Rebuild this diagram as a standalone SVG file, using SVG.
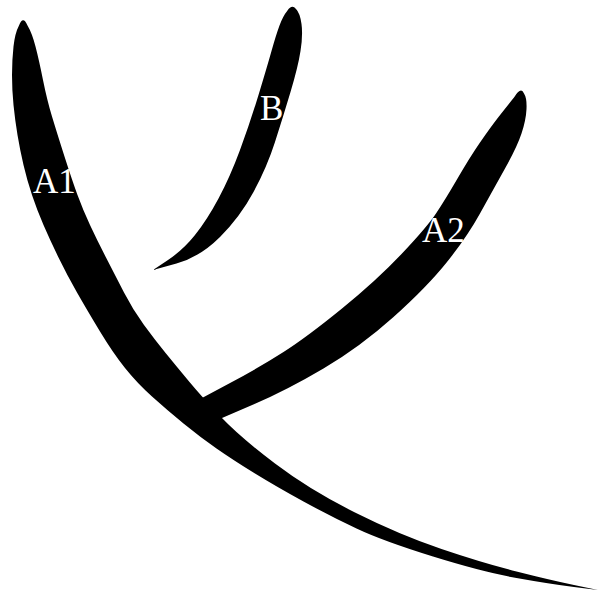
<svg xmlns="http://www.w3.org/2000/svg" width="598" height="597" viewBox="0 0 598 597">
<style>
.shape{fill:#000;stroke:none}
.lbl{fill:#fff;font-family:"Liberation Serif","Times New Roman",serif;font-size:35px}
</style>
<rect width="598" height="597" fill="#fff"/>
<g id="A1">
<path class="shape" d="M 27.5,25.5 Q 32,33 35.5,46.5 Q 39,60 43,80 Q 47,100 52,116.5 Q 57,133 64.5,156.5 Q 72,180 77.5,195 Q 83,210 90,225 Q 97,240 106,257.5 Q 115,275 124,292.5 Q 133,310 144,325 Q 155,340 166,353.5 Q 177,367 189.5,382 Q 202,397 221,417 Q 240,437 275,463.5 Q 310,490 355,512.5 Q 400,535 441.5,549 Q 483,563 516.5,571.5 Q 550,580 574,585 L 598,590 L 574,587 Q 550,584 516.5,578 Q 483,572 433,556.5 Q 383,541 356.5,528.5 Q 330,516 303.5,501.5 Q 277,487 255,473.5 Q 233,460 216.5,448.5 Q 200,437 183.5,423.5 Q 167,410 152,396.5 Q 137,383 125,368 Q 113,353 100,331.5 Q 87,310 77,292.5 Q 67,275 58.5,257.5 Q 50,240 43.5,225 Q 37,210 32,195 Q 27,180 23.5,165 Q 20,150 17.5,135 Q 15,120 13.5,105 Q 12,90 12,75 Q 12,60 13.5,46.5 Q 15,33 19,25.5 Q 23,15 27.5,25.5 Z"/>
<text class="lbl" x="33" y="193">A1</text>
</g>
<g id="A2">
<path class="shape" d="M 202,398 L 231,382.5 Q 260,367 283.5,352 Q 307,337 342,308.5 Q 377,280 402,253.5 Q 427,227 436,213.5 Q 445,200 457.5,178.5 Q 470,157 480,142.5 Q 490,128 498.5,117 Q 507,106 514,97.5 Q 521,86 524,93.5 Q 527,98 526.5,109 Q 526,120 521.5,133.5 Q 517,147 505,168.5 Q 493,190 480,213.5 Q 467,237 447,262 Q 427,287 393.5,317 Q 360,347 323.5,368.5 Q 287,390 254.5,404 L 222,418 L 205,420 L 192,402 Z"/>
<text class="lbl" x="422" y="242">A2</text>
</g>
<g id="B">
<path class="shape" d="M 296,9 Q 300,13 301.5,24 Q 303,35 300.5,51 Q 298,67 290.5,92 Q 283,117 275,142 Q 267,167 253.5,192 Q 240,217 220,237 Q 200,257 176.5,263.5 L 153,270 L 168,260 Q 183,250 195,235 Q 207,220 218.5,198.5 Q 230,177 240,150 Q 250,123 258.5,95 Q 267,67 271.5,51 Q 276,35 279.5,25.5 Q 283,16 287.5,10.5 Q 292,4 296,9 Z"/>
<text class="lbl" x="260" y="120">B</text>
</g>
<g id="connectors"/>
</svg>
